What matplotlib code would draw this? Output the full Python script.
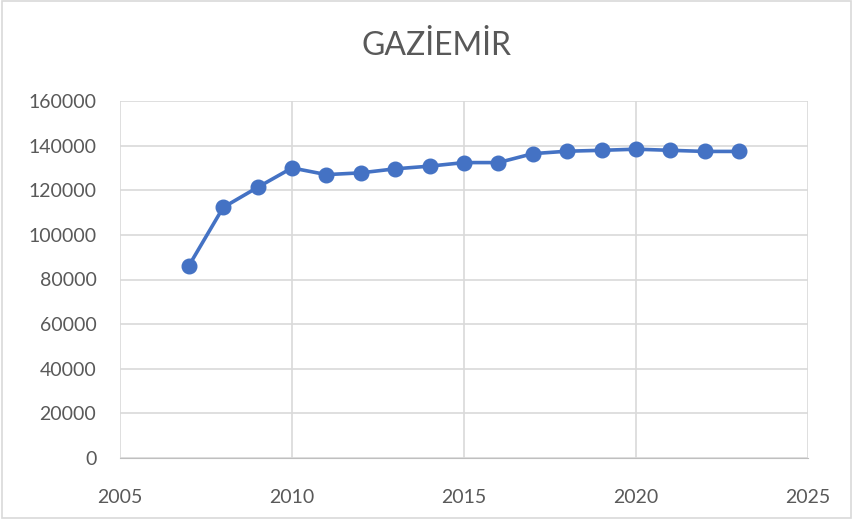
import matplotlib.pyplot as plt
from matplotlib.patches import Rectangle

years = [2007, 2008, 2009, 2010, 2011, 2012, 2013, 2014, 2015,
         2016, 2017, 2018, 2019, 2020, 2021, 2022, 2023]
population = [86100, 112300, 121300, 130000, 127000, 127800, 129600, 130800, 132400,
              132400, 136400, 137500, 137900, 138400, 137900, 137400, 137400]

x_ticks = [2005, 2010, 2015, 2020, 2025]
y_ticks = [0, 20000, 40000, 60000, 80000, 100000, 120000, 140000, 160000]

plt.rcParams['font.family'] = ['Lato', 'DejaVu Sans']

fig = plt.figure(figsize=(8.53, 5.19), dpi=100)
ax = fig.add_axes([120 / 853, 1 - 458 / 519, 688 / 853, 357 / 519])

ax.plot(years, population, color='#4472C4', linewidth=2.6,
        marker='o', markersize=10.5, zorder=3)

ax.set_xlim(2005, 2025)
ax.set_ylim(0, 160000)
ax.set_xticks(x_ticks)
ax.set_yticks(y_ticks)
ax.grid(True, color='#D9D9D9', linewidth=1.2)
ax.set_axisbelow(True)
for s in ax.spines.values():
    s.set_visible(False)
ax.spines['bottom'].set_visible(True)
ax.spines['bottom'].set_color('#BFBFBF')
ax.tick_params(length=0, labelsize=14, colors='#595959')
ax.tick_params(axis='x', pad=22)
ax.tick_params(axis='y', pad=17)

fig.text(437 / 853, 1 - 46 / 519, 'GAZİEMİR', ha='center', va='center',
         fontsize=23, color='#595959')

# chart border
fig.patches.append(Rectangle((0.002, 0.002), 0.996, 0.996, transform=fig.transFigure,
                             fill=False, edgecolor='#D9D9D9', linewidth=1.2))

fig.savefig('out.png', dpi=100)
